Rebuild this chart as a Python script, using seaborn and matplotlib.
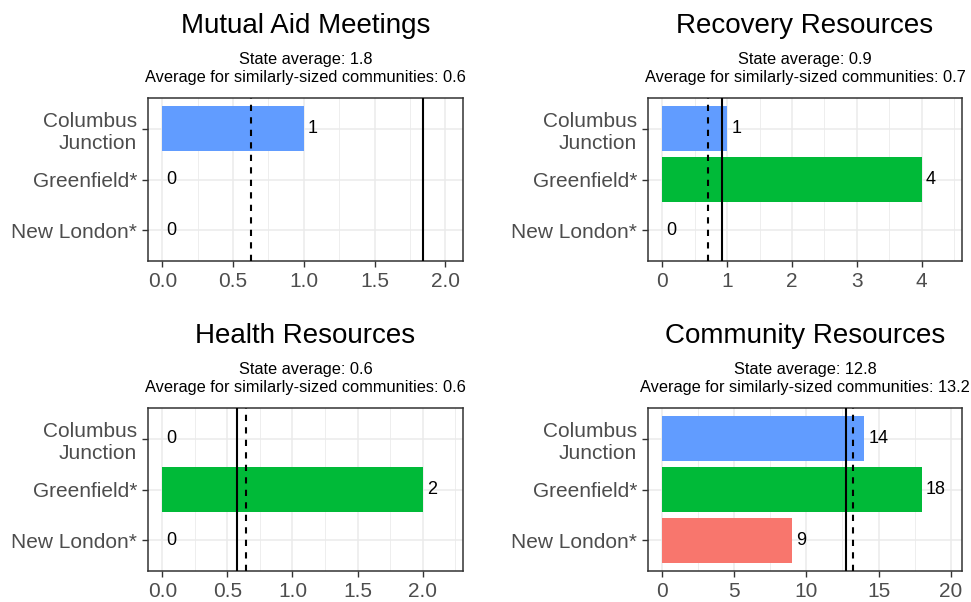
import matplotlib

matplotlib.use("Agg")
import matplotlib.pyplot as plt
import pandas as pd
import seaborn as sns
from matplotlib.ticker import FixedLocator, MultipleLocator

COMMUNITIES = ["Columbus\nJunction", "Greenfield*", "New London*"]
COMMUNITY_COLORS = ["#619CFF", "#00BA38", "#F8766D"]

PANEL_TITLES = ["Mutual Aid Meetings", "Recovery Resources", "Health Resources", "Community Resources"]
MUTUAL_AID = [1, 0, 0]
RECOVERY = [1, 4, 0]
HEALTH = [0, 2, 0]
COMMUNITY = [14, 18, 9]
STATE_AVG = [1.84, 0.92, 0.57, 12.77]
SIMILAR_AVG = [0.63, 0.70, 0.64, 13.2]
X_TICKS = [
    [0.0, 0.5, 1.0, 1.5, 2.0],
    [0, 1, 2, 3, 4],
    [0.0, 0.5, 1.0, 1.5, 2.0],
    [0, 5, 10, 15, 20],
]
X_TICK_LABELS = [
    ["0.0", "0.5", "1.0", "1.5", "2.0"],
    ["0", "1", "2", "3", "4"],
    ["0.0", "0.5", "1.0", "1.5", "2.0"],
    ["0", "5", "10", "15", "20"],
]

FIG_W, FIG_H = 971, 602
# panel boxes in pixels: left, right, top, bottom
PANELS_PX = [
    (148, 463, 98, 261),
    (648, 962, 98, 261),
    (148, 463, 408, 571),
    (648, 962, 408, 571),
]

TICK_GRAY = "#4D4D4D"
BORDER = "#333333"
GRID = "#EBEBEB"


def _draw_panel(fig, box, values, title, state, similar, ticks, tick_labels):
    left, right, top, bottom = box
    ax = fig.add_axes([
        left / FIG_W,
        1 - bottom / FIG_H,
        (right - left) / FIG_W,
        (bottom - top) / FIG_H,
    ])

    df = pd.DataFrame({"community": COMMUNITIES, "value": values})
    sns.barplot(
        data=df,
        x="value",
        y="community",
        hue="community",
        order=COMMUNITIES,
        hue_order=COMMUNITIES,
        palette=COMMUNITY_COLORS,
        saturation=1,
        width=0.9,
        dodge=False,
        legend=False,
        linewidth=0,
        ax=ax,
    )

    ax.axvline(state, color="black", lw=1.5, zorder=5)
    ax.axvline(similar, color="black", lw=1.5, ls=(0, (3, 3)), zorder=5)

    for i, v in enumerate(values):
        ax.annotate(
            str(v), xy=(v, i), xytext=(3, 0), textcoords="offset points",
            ha="left", va="center", fontsize=13, color="black", zorder=6,
        )

    rng = 1.1 * max(max(values), state, similar)
    ax.set_xlim(-0.05 * rng, 1.05 * rng)
    ax.set_ylim(2.6, -0.6)

    ax.xaxis.set_major_locator(FixedLocator(ticks))
    ax.set_xticklabels(tick_labels)
    ax.xaxis.set_minor_locator(MultipleLocator((ticks[1] - ticks[0]) / 2))

    ax.set_axisbelow(True)
    ax.grid(which="major", color=GRID, lw=1.1)
    ax.grid(which="minor", axis="x", color=GRID, lw=0.6)
    ax.set_xlabel("")
    ax.set_ylabel("")

    for spine in ax.spines.values():
        spine.set_visible(True)
        spine.set_color(BORDER)
        spine.set_linewidth(1.1)

    ax.tick_params(which="major", axis="both", length=4, width=1, color=BORDER,
                   labelcolor=TICK_GRAY, labelsize=15, pad=4, bottom=True, left=True)
    ax.tick_params(which="minor", length=0)

    cx = (left + right) / 2 / FIG_W
    fig.text(cx, 1 - (top - 65) / FIG_H, title, ha="center", va="baseline",
             fontsize=20, color="black")
    fig.text(cx, 1 - (top - 34) / FIG_H, f"State average: {state:.1f}",
             ha="center", va="baseline", fontsize=11.8, color="black")
    fig.text(cx, 1 - (top - 16) / FIG_H,
             f"Average for similarly-sized communities: {similar:.1f}",
             ha="center", va="baseline", fontsize=11.8, color="black")
    return ax


def main():
    sns.set_theme(style="whitegrid")
    plt.rcParams["font.family"] = ["Liberation Sans", "DejaVu Sans"]

    fig = plt.figure(figsize=(FIG_W / 100, FIG_H / 100), dpi=100)
    fig.patch.set_facecolor("white")

    series = [MUTUAL_AID, RECOVERY, HEALTH, COMMUNITY]
    for k in range(4):
        _draw_panel(fig, PANELS_PX[k], series[k], PANEL_TITLES[k], STATE_AVG[k],
                    SIMILAR_AVG[k], X_TICKS[k], X_TICK_LABELS[k])

    fig.savefig("out.png", dpi=100, facecolor="white")
    plt.close(fig)


if __name__ == "__main__":
    main()
